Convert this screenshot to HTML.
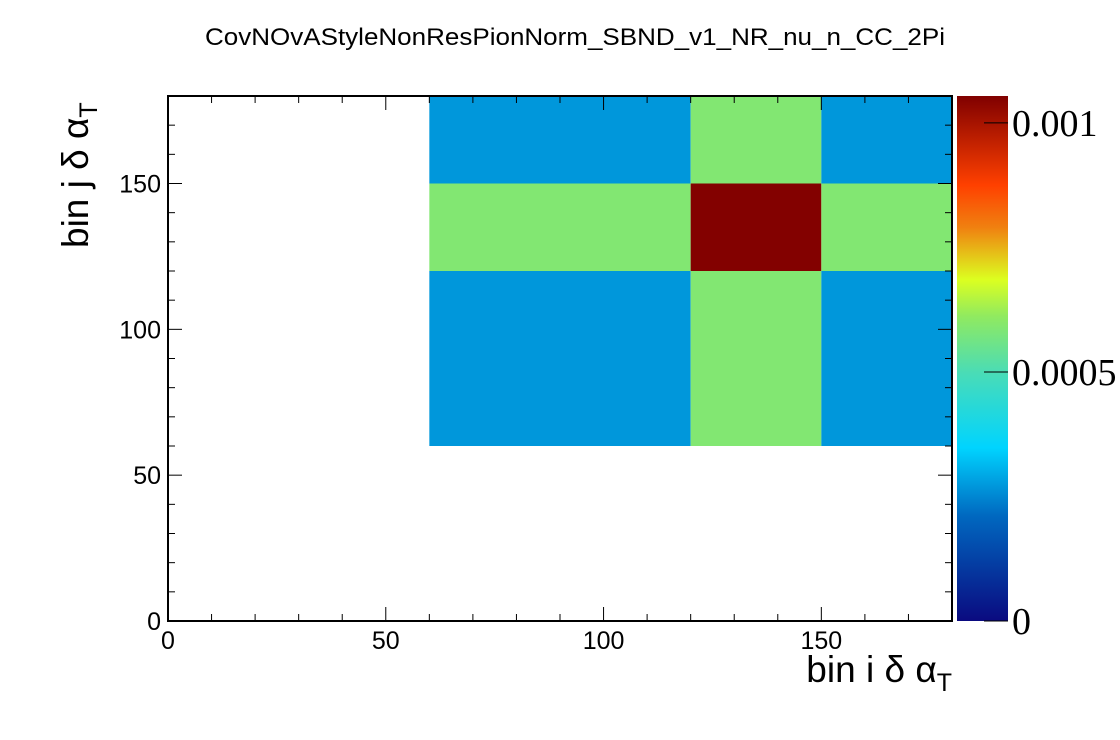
<!DOCTYPE html>
<html><head><meta charset="utf-8"><style>
html,body{margin:0;padding:0;background:#fff;}
svg{display:block;font-family:"Liberation Sans",sans-serif;}
</style></head><body>
<svg id="c" width="1120" height="740" xmlns="http://www.w3.org/2000/svg">
<defs>
<linearGradient id="pal" x1="0" y1="1" x2="0" y2="0">
<stop offset="0" stop-color="#0a0a80"/>
<stop offset="0.2" stop-color="#0068c0"/>
<stop offset="0.33" stop-color="#00d4ff"/>
<stop offset="0.47" stop-color="#48dcb8"/>
<stop offset="0.58" stop-color="#90ea60"/>
<stop offset="0.65" stop-color="#dcff20"/>
<stop offset="0.75" stop-color="#f08010"/>
<stop offset="0.83" stop-color="#ff4000"/>
<stop offset="1" stop-color="#800000"/>
</linearGradient>
</defs>
<text x="575" y="45" text-anchor="middle" font-size="24" textLength="740" lengthAdjust="spacingAndGlyphs">CovNOvAStyleNonResPionNorm_SBND_v1_NR_nu_n_CC_2Pi</text>
<g id="cells"></g>
<g id="axes"></g>
<rect x="957" y="96" width="51" height="525" fill="url(#pal)"/>
<g id="zaxis"></g>
<text x="952" y="682" text-anchor="end" font-size="37">bin i δ α<tspan font-size="25" dy="9">T</tspan></text>
<text transform="translate(88,248) rotate(-90)" font-size="37">bin j δ α<tspan font-size="25" dy="9">T</tspan></text>
</svg>
<script>
const xEdges=[60,120,150,180];
const yEdges=[60,120,150,180];
const values=[
 [0.00027,0.000588,0.00027],
 [0.000588,0.00105,0.000588],
 [0.00027,0.000588,0.00027]
];
const xTicks=[0,50,100,150];
const yTicks=[0,50,100,150];
const zTicks=[0,0.0005,0.001];
const zTickLabels=["0","0.0005","0.001"];
const zMax=0.001054;
const X0=168,X1=952,Y0=621,Y1=96;
const sx=v=>X0+(v-0)/180*(X1-X0);
const sy=v=>Y0-(v-0)/180*(Y0-Y1);
const sz=v=>Y0-v/zMax*(Y0-Y1);
const stops=[[0,[10,10,128]],[0.2,[0,104,192]],[0.33,[0,212,255]],[0.47,[72,220,184]],[0.58,[144,234,96]],[0.65,[220,255,32]],[0.75,[240,128,16]],[0.83,[255,64,0]],[1,[128,0,0]]];
function col(v){let f=Math.max(0,Math.min(1,v/zMax));for(let i=1;i<stops.length;i++){if(f<=stops[i][0]){const a=stops[i-1],b=stops[i];const t=(f-a[0])/(b[0]-a[0]);const c=a[1].map((q,k)=>Math.round(q+(b[1][k]-q)*t));return `rgb(${c})`;}}return 'rgb(128,0,0)';}
const NS="http://www.w3.org/2000/svg";
function mk(t,a,p){const e=document.createElementNS(NS,t);for(const k in a)e.setAttribute(k,a[k]);p.appendChild(e);return e;}
const cells=document.getElementById('cells');
for(let j=0;j<values.length;j++)for(let i=0;i<values[j].length;i++){
 const x=sx(xEdges[i]),x2=sx(xEdges[i+1]),y=sy(yEdges[j+1]),y2=sy(yEdges[j]);
 const r=mk('rect',{x:x,y:y,width:x2-x,height:y2-y,fill:col(values[j][i])},cells);
 
 
}
const ax=document.getElementById('axes');
const fr=mk('rect',{x:X0,y:Y1,width:X1-X0,height:Y0-Y1,fill:'none',stroke:'#000','stroke-width':2},ax);


for(let v=0;v<=180;v+=10){
 const L=v%50===0?14:7;const x=sx(v),y=sy(v);
 mk('line',{x1:x,x2:x,y1:Y0,y2:Y0-L,stroke:'#000'},ax);
 mk('line',{x1:x,x2:x,y1:Y1,y2:Y1+L,stroke:'#000'},ax);
 mk('line',{x1:X0,x2:X0+L,y1:y,y2:y,stroke:'#000'},ax);
 mk('line',{x1:X1,x2:X1-L,y1:y,y2:y,stroke:'#000'},ax);
}
xTicks.forEach(v=>{const t=mk('text',{x:sx(v),y:649,'text-anchor':'middle','font-size':25},ax);t.textContent=v;
 
 });
yTicks.forEach(v=>{const t=mk('text',{x:161,y:sy(v)+9,'text-anchor':'end','font-size':25},ax);t.textContent=v;
 
 });
const za=document.getElementById('zaxis');
zTicks.forEach((v,i)=>{const y=sz(v);
 mk('line',{x1:984,x2:1008,y1:y,y2:y,stroke:'#000'},za);
 const t=mk('text',{x:1012,y:y+13,'font-size':38,'font-family':'Liberation Serif, serif'},za);t.textContent=zTickLabels[i];
 
 });
</script>
</body></html>
